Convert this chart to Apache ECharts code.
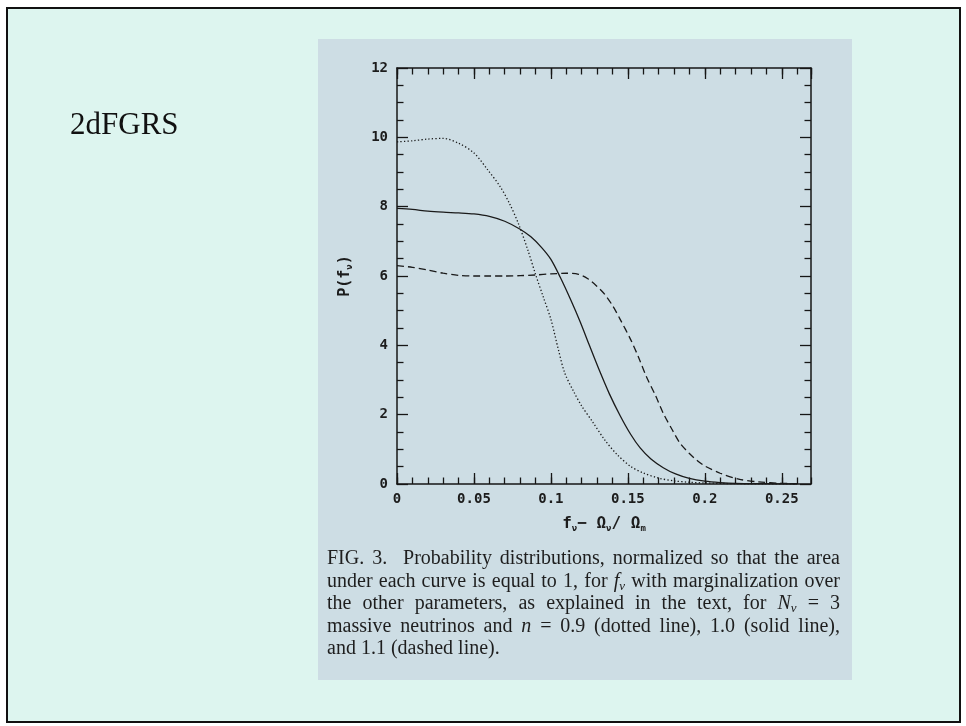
<!DOCTYPE html>
<html>
<head>
<meta charset="utf-8">
<script src="https://cdn.jsdelivr.net/npm/echarts@6/dist/echarts.min.js"></script>
<style>
  html, body { margin: 0; padding: 0; background: #ffffff; }
  #chart { width: 966px; height: 726px; }
</style>
</head>
<body>
<div id="chart"></div>
<script>
// P(f_nu) for n = 0.9 (dotted line)
const dottedX = [0, 0.01, 0.02, 0.03, 0.04, 0.05, 0.059, 0.067, 0.073, 0.079, 0.085, 0.09, 0.095, 0.1, 0.105, 0.109, 0.115, 0.12, 0.127, 0.135, 0.143, 0.152, 0.16, 0.17, 0.18, 0.19, 0.2, 0.22, 0.24, 0.26];
const dottedY = [9.87, 9.9, 9.95, 9.97, 9.83, 9.55, 9.06, 8.58, 8.1, 7.5, 6.75, 6.05, 5.4, 4.75, 3.85, 3.2, 2.65, 2.25, 1.8, 1.27, 0.85, 0.5, 0.32, 0.17, 0.09, 0.05, 0.03, 0.01, 0.005, 0];

// P(f_nu) for n = 1.0 (solid line)
const solidX = [0, 0.01, 0.02, 0.03, 0.04, 0.05, 0.06, 0.07, 0.08, 0.087, 0.094, 0.1, 0.106, 0.113, 0.119, 0.125, 0.131, 0.138, 0.145, 0.152, 0.158, 0.165, 0.173, 0.181, 0.19, 0.2, 0.21, 0.22, 0.24, 0.26];
const solidY = [7.95, 7.92, 7.87, 7.84, 7.82, 7.79, 7.72, 7.58, 7.35, 7.13, 6.82, 6.48, 5.97, 5.3, 4.68, 4.0, 3.33, 2.6, 1.97, 1.42, 1.04, 0.72, 0.47, 0.29, 0.16, 0.08, 0.04, 0.02, 0.01, 0];

// P(f_nu) for n = 1.1 (dashed line)
const dashedX = [0, 0.01, 0.02, 0.03, 0.04, 0.05, 0.06, 0.07, 0.08, 0.09, 0.1, 0.11, 0.118, 0.124, 0.13, 0.135, 0.14, 0.145, 0.152, 0.157, 0.162, 0.168, 0.173, 0.179, 0.184, 0.19, 0.195, 0.2, 0.21, 0.222, 0.235, 0.25, 0.26];
const dashedY = [6.3, 6.25, 6.17, 6.08, 6.02, 6.0, 6.0, 6.0, 6.01, 6.03, 6.06, 6.08, 6.05, 5.92, 5.7, 5.47, 5.15, 4.75, 4.15, 3.65, 3.1, 2.55, 2.04, 1.55, 1.17, 0.88, 0.68, 0.52, 0.31, 0.14, 0.06, 0.02, 0.01];

// Axis ranges and tick steps
const xRange = [0, 0.269];
const xMajorStep = 0.05;
const xMinorStep = 0.01;
const yRange = [0, 12];
const yMajorStep = 2;

const slideTitle = '2dFGRS';
const captionLines = [
  'FIG. 3.  Probability distributions, normalized so that the area',
  'under each curve is equal to 1, for {i|f}{s|ν} with marginalization over',
  'the other parameters, as explained in the text, for {i|N}{s|ν} = 3',
  'massive neutrinos and {i|n} = 0.9 (dotted line), 1.0 (solid line),',
  'and 1.1 (dashed line).'
];

const pairs = (xs, ys) => xs.map((x, i) => [x, ys[i]]);

// ---- caption layout (justified, word by word) ----
const CAP_FAMILY = '"Liberation Serif", "Times New Roman", serif';
const CAP_SIZE = 20;
const SUB_SIZE = 13;
const CAP_LEFT = 327;
const CAP_WIDTH = 513;
const CAP_TOP = 559;
const CAP_LINE = 22.5;

const measureCtx = document.createElement('canvas').getContext('2d');
function segFont(kind) {
  if (kind === 'i') return 'italic ' + CAP_SIZE + 'px ' + CAP_FAMILY;
  if (kind === 's') return 'italic ' + SUB_SIZE + 'px ' + CAP_FAMILY;
  return CAP_SIZE + 'px ' + CAP_FAMILY;
}
function textWidth(t, kind) {
  measureCtx.font = segFont(kind);
  return measureCtx.measureText(t).width;
}
function parseWord(w) {
  const segs = [];
  const re = /\{(\w)\|([^}]*)\}|([^{]+)/g;
  let m;
  while ((m = re.exec(w))) {
    if (m[1]) segs.push({ k: m[1], t: m[2] });
    else segs.push({ k: 'r', t: m[3] });
  }
  return segs;
}

const captionEls = [];
captionLines.forEach((line, li) => {
  const words = line.split(' ').map(parseWord);
  const widths = words.map(segs => segs.reduce((s, g) => s + textWidth(g.t, g.k), 0));
  const total = widths.reduce((a, b) => a + b, 0);
  const isLast = li === captionLines.length - 1;
  const gap = isLast ? textWidth(' ', 'r') : (CAP_WIDTH - total) / (words.length - 1);
  const y = CAP_TOP + li * CAP_LINE;
  let x = CAP_LEFT;
  words.forEach((segs, wi) => {
    let sx = x;
    segs.forEach(g => {
      captionEls.push({
        type: 'text',
        x: sx,
        y: g.k === 's' ? y + 5 : y,
        z: 5,
        style: {
          text: g.t,
          font: segFont(g.k),
          fill: '#1e1e1e',
          align: 'left',
          verticalAlign: 'middle'
        }
      });
      sx += textWidth(g.t, g.k);
    });
    x += widths[wi] + gap;
  });
});

// ---- axes: major and minor ticks on all four sides, pointing inward ----
const AXIS_COLOR = '#161616';
const LABEL_FONT = '"DejaVu Sans Mono", monospace';

function xAxisDef(position, step, tickLen, withLine, withLabels) {
  return {
    type: 'value',
    position: position,
    min: xRange[0],
    max: xRange[1],
    interval: step,
    splitLine: { show: false },
    axisLine: { show: withLine, onZero: false, lineStyle: { color: AXIS_COLOR, width: 1.5 } },
    axisTick: { show: true, inside: true, length: tickLen, lineStyle: { color: AXIS_COLOR, width: 1.3 } },
    axisLabel: {
      show: withLabels,
      showMaxLabel: false,
      margin: 8,
      color: '#1c1c1c',
      fontFamily: LABEL_FONT,
      fontWeight: 'bold',
      fontSize: 14
    }
  };
}
function yAxisDef(position, withLabels) {
  return {
    type: 'value',
    position: position,
    min: yRange[0],
    max: yRange[1],
    interval: yMajorStep,
    splitLine: { show: false },
    axisLine: { show: true, onZero: false, lineStyle: { color: AXIS_COLOR, width: 1.5 } },
    axisTick: { show: true, inside: true, length: 11, lineStyle: { color: AXIS_COLOR, width: 1.3 } },
    minorTick: { show: true, splitNumber: 4, length: 6.5, lineStyle: { color: AXIS_COLOR, width: 1.3 } },
    axisLabel: {
      show: withLabels,
      margin: 9,
      color: '#1c1c1c',
      fontFamily: LABEL_FONT,
      fontWeight: 'bold',
      fontSize: 14
    }
  };
}

function nameRich(size) {
  return {
    a: { fontFamily: LABEL_FONT, fontWeight: 'bold', fontSize: size, color: '#1c1c1c', lineHeight: size + 2 },
    s: { fontFamily: LABEL_FONT, fontWeight: 'bold', fontSize: Math.round(size * 0.58), color: '#1c1c1c', lineHeight: size + 2, verticalAlign: 'bottom' }
  };
}

const xBottom = xAxisDef('bottom', xMajorStep, 11, true, true);
xBottom.name = '{a|f}{s|ν}{a|− Ω}{s|ν}{a|/ Ω}{s|m}';
xBottom.nameLocation = 'middle';
xBottom.nameGap = 31;
xBottom.nameTextStyle = { rich: nameRich(16) };

const yLeft = yAxisDef('left', true);
yLeft.name = '{a|P(f}{s|ν}{a|)}';
yLeft.nameLocation = 'middle';
yLeft.nameGap = 43;
yLeft.nameRotate = 90;
yLeft.nameTextStyle = { rich: nameRich(15) };

const lineCommon = {
  type: 'line',
  xAxisIndex: 0,
  yAxisIndex: 0,
  showSymbol: false,
  smooth: 0.3,
  silent: true,
  animation: false
};

const chart = echarts.init(document.getElementById('chart'), null, { renderer: 'canvas' });
chart.setOption({
  animation: false,
  backgroundColor: '#ffffff',
  grid: { left: 397, top: 68, width: 414, height: 416, containLabel: false },
  xAxis: [
    xBottom,
    xAxisDef('bottom', xMinorStep, 6.5, false, false),
    xAxisDef('top', xMajorStep, 11, true, false),
    xAxisDef('top', xMinorStep, 6.5, false, false)
  ],
  yAxis: [yLeft, yAxisDef('right', false)],
  graphic: [
    {
      type: 'rect',
      z: -20,
      shape: { x: 7, y: 8, width: 953, height: 714 },
      style: { fill: '#ddf5ef', stroke: '#111111', lineWidth: 2 }
    },
    {
      type: 'rect',
      z: -10,
      shape: { x: 318, y: 39, width: 534, height: 641 },
      style: { fill: '#cddde4' }
    },
    {
      type: 'text',
      x: 70,
      y: 126,
      z: 5,
      style: {
        text: slideTitle,
        font: '31px "Liberation Serif", "Times New Roman", serif',
        fill: '#111111',
        align: 'left',
        verticalAlign: 'middle'
      }
    }
  ].concat(captionEls),
  series: [
    Object.assign({}, lineCommon, {
      name: 'n = 0.9',
      data: pairs(dottedX, dottedY),
      lineStyle: { color: '#1a1a1a', width: 1.3, type: [1.3, 2.2] }
    }),
    Object.assign({}, lineCommon, {
      name: 'n = 1.0',
      data: pairs(solidX, solidY),
      lineStyle: { color: '#1a1a1a', width: 1.3, type: 'solid' }
    }),
    Object.assign({}, lineCommon, {
      name: 'n = 1.1',
      data: pairs(dashedX, dashedY),
      lineStyle: { color: '#1a1a1a', width: 1.3, type: [7, 4] }
    })
  ]
});
</script>
</body>
</html>
